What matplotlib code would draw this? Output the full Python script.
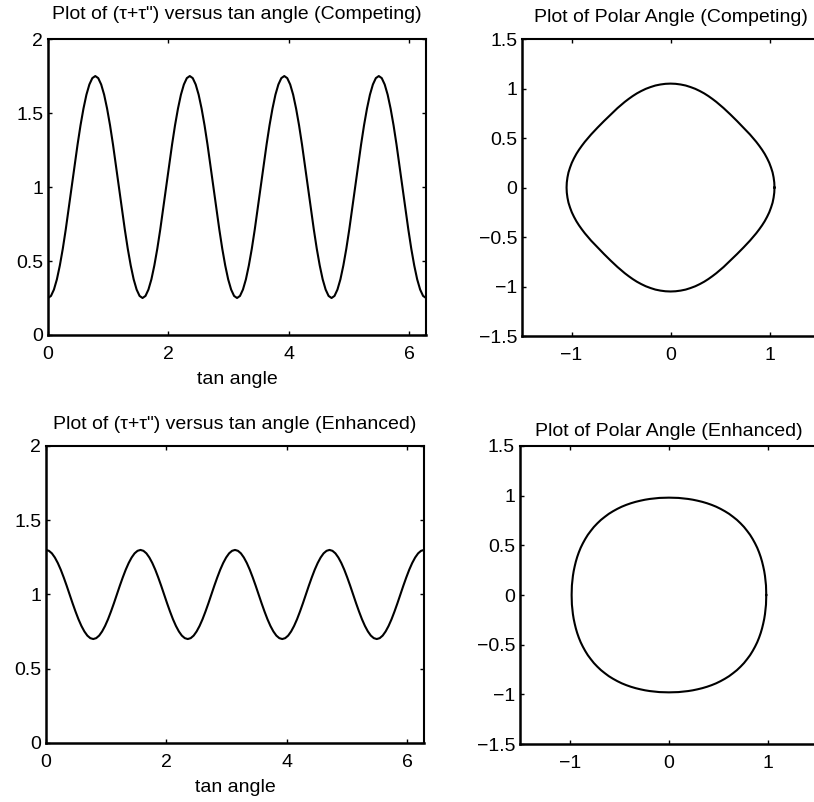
import numpy as np
import matplotlib
matplotlib.use("Agg")
import matplotlib.pyplot as plt
from matplotlib.ticker import FuncFormatter

plt.rcParams['font.family'] = ['Liberation Sans', 'DejaVu Sans']

# tan angle samples (129 points over one turn)
angle = np.linspace(0, 2 * np.pi, 129)

# (tau + tau''), one value per angle sample
stiff_competing = [
    0.25, 0.264, 0.307, 0.376, 0.47, 0.583, 0.713, 0.854, 1.0, 1.146, 1.287, 1.417, 1.53, 1.624, 1.693, 1.736,
    1.75, 1.736, 1.693, 1.624, 1.53, 1.417, 1.287, 1.146, 1.0, 0.854, 0.713, 0.583, 0.47, 0.376, 0.307, 0.264,
    0.25, 0.264, 0.307, 0.376, 0.47, 0.583, 0.713, 0.854, 1.0, 1.146, 1.287, 1.417, 1.53, 1.624, 1.693, 1.736,
    1.75, 1.736, 1.693, 1.624, 1.53, 1.417, 1.287, 1.146, 1.0, 0.854, 0.713, 0.583, 0.47, 0.376, 0.307, 0.264,
    0.25, 0.264, 0.307, 0.376, 0.47, 0.583, 0.713, 0.854, 1.0, 1.146, 1.287, 1.417, 1.53, 1.624, 1.693, 1.736,
    1.75, 1.736, 1.693, 1.624, 1.53, 1.417, 1.287, 1.146, 1.0, 0.854, 0.713, 0.583, 0.47, 0.376, 0.307, 0.264,
    0.25, 0.264, 0.307, 0.376, 0.47, 0.583, 0.713, 0.854, 1.0, 1.146, 1.287, 1.417, 1.53, 1.624, 1.693, 1.736,
    1.75, 1.736, 1.693, 1.624, 1.53, 1.417, 1.287, 1.146, 1.0, 0.854, 0.713, 0.583, 0.47, 0.376, 0.307, 0.264,
    0.25]

stiff_enhanced = [
    1.3, 1.294, 1.277, 1.249, 1.212, 1.167, 1.115, 1.059, 1.0, 0.941, 0.885, 0.833, 0.788, 0.751, 0.723, 0.706,
    0.7, 0.706, 0.723, 0.751, 0.788, 0.833, 0.885, 0.941, 1.0, 1.059, 1.115, 1.167, 1.212, 1.249, 1.277, 1.294,
    1.3, 1.294, 1.277, 1.249, 1.212, 1.167, 1.115, 1.059, 1.0, 0.941, 0.885, 0.833, 0.788, 0.751, 0.723, 0.706,
    0.7, 0.706, 0.723, 0.751, 0.788, 0.833, 0.885, 0.941, 1.0, 1.059, 1.115, 1.167, 1.212, 1.249, 1.277, 1.294,
    1.3, 1.294, 1.277, 1.249, 1.212, 1.167, 1.115, 1.059, 1.0, 0.941, 0.885, 0.833, 0.788, 0.751, 0.723, 0.706,
    0.7, 0.706, 0.723, 0.751, 0.788, 0.833, 0.885, 0.941, 1.0, 1.059, 1.115, 1.167, 1.212, 1.249, 1.277, 1.294,
    1.3, 1.294, 1.277, 1.249, 1.212, 1.167, 1.115, 1.059, 1.0, 0.941, 0.885, 0.833, 0.788, 0.751, 0.723, 0.706,
    0.7, 0.706, 0.723, 0.751, 0.788, 0.833, 0.885, 0.941, 1.0, 1.059, 1.115, 1.167, 1.212, 1.249, 1.277, 1.294,
    1.3]

# polar radius, same angle samples
radius_competing = [
    1.05, 1.049, 1.046, 1.042, 1.035, 1.028, 1.019, 1.01, 1.0, 0.99, 0.981, 0.972, 0.965, 0.958, 0.954, 0.951,
    0.95, 0.951, 0.954, 0.958, 0.965, 0.972, 0.981, 0.99, 1.0, 1.01, 1.019, 1.028, 1.035, 1.042, 1.046, 1.049,
    1.05, 1.049, 1.046, 1.042, 1.035, 1.028, 1.019, 1.01, 1.0, 0.99, 0.981, 0.972, 0.965, 0.958, 0.954, 0.951,
    0.95, 0.951, 0.954, 0.958, 0.965, 0.972, 0.981, 0.99, 1.0, 1.01, 1.019, 1.028, 1.035, 1.042, 1.046, 1.049,
    1.05, 1.049, 1.046, 1.042, 1.035, 1.028, 1.019, 1.01, 1.0, 0.99, 0.981, 0.972, 0.965, 0.958, 0.954, 0.951,
    0.95, 0.951, 0.954, 0.958, 0.965, 0.972, 0.981, 0.99, 1.0, 1.01, 1.019, 1.028, 1.035, 1.042, 1.046, 1.049,
    1.05, 1.049, 1.046, 1.042, 1.035, 1.028, 1.019, 1.01, 1.0, 0.99, 0.981, 0.972, 0.965, 0.958, 0.954, 0.951,
    0.95, 0.951, 0.954, 0.958, 0.965, 0.972, 0.981, 0.99, 1.0, 1.01, 1.019, 1.028, 1.035, 1.042, 1.046, 1.049,
    1.05]

radius_enhanced = [
    0.98, 0.98, 0.982, 0.983, 0.986, 0.989, 0.992, 0.996, 1.0, 1.004, 1.008, 1.011, 1.014, 1.017, 1.018, 1.02,
    1.02, 1.02, 1.018, 1.017, 1.014, 1.011, 1.008, 1.004, 1.0, 0.996, 0.992, 0.989, 0.986, 0.983, 0.982, 0.98,
    0.98, 0.98, 0.982, 0.983, 0.986, 0.989, 0.992, 0.996, 1.0, 1.004, 1.008, 1.011, 1.014, 1.017, 1.018, 1.02,
    1.02, 1.02, 1.018, 1.017, 1.014, 1.011, 1.008, 1.004, 1.0, 0.996, 0.992, 0.989, 0.986, 0.983, 0.982, 0.98,
    0.98, 0.98, 0.982, 0.983, 0.986, 0.989, 0.992, 0.996, 1.0, 1.004, 1.008, 1.011, 1.014, 1.017, 1.018, 1.02,
    1.02, 1.02, 1.018, 1.017, 1.014, 1.011, 1.008, 1.004, 1.0, 0.996, 0.992, 0.989, 0.986, 0.983, 0.982, 0.98,
    0.98, 0.98, 0.982, 0.983, 0.986, 0.989, 0.992, 0.996, 1.0, 1.004, 1.008, 1.011, 1.014, 1.017, 1.018, 1.02,
    1.02, 1.02, 1.018, 1.017, 1.014, 1.011, 1.008, 1.004, 1.0, 0.996, 0.992, 0.989, 0.986, 0.983, 0.982, 0.98,
    0.98]

titles = ['Plot of (\u03c4+\u03c4") versus tan angle (Competing)',
          'Plot of Polar Angle (Competing)',
          'Plot of (\u03c4+\u03c4") versus tan angle (Enhanced)',
          'Plot of Polar Angle (Enhanced)']
left_xticks = [0, 2, 4, 6]
left_yticks = [0, 0.5, 1, 1.5, 2]
right_xticks = [-1, 0, 1]
right_yticks = [-1.5, -1, -0.5, 0, 0.5, 1, 1.5]


def fmt(v, pos):
    return ('%g' % v).replace('-', '\u2212')


def style(ax):
    for s in ax.spines.values():
        s.set_linewidth(1.5)
    ax.spines['left'].set_linewidth(1.8)
    ax.spines['bottom'].set_linewidth(1.8)
    ax.tick_params(direction='in', top=True, right=True, length=3, width=1,
                   labelsize=14)
    ax.tick_params(axis='x', pad=8)
    ax.tick_params(axis='y', pad=3.5)
    ax.xaxis.set_major_formatter(FuncFormatter(fmt))
    ax.yaxis.set_major_formatter(FuncFormatter(fmt))


fig = plt.figure(figsize=(8.14, 8.02), dpi=100)

ax1 = fig.add_axes([0.059, 0.5823, 0.4644, 0.369])
ax2 = fig.add_axes([0.6413, 0.581, 0.3649, 0.3703])
ax3 = fig.add_axes([0.0565, 0.0736, 0.4644, 0.3703])
ax4 = fig.add_axes([0.6388, 0.0723, 0.366, 0.3716])

for ax, y, t, tp in [(ax1, stiff_competing, titles[0], 14.2), (ax3, stiff_enhanced, titles[2], 12)]:
    ax.plot(angle, y, color='black', lw=1.5)
    ax.set_xlim(0, 2 * np.pi)
    ax.set_ylim(0, 2)
    ax.set_xticks(left_xticks)
    ax.set_yticks(left_yticks)
    ax.set_xlabel('tan angle', fontsize=14, labelpad=5.5)
    ax.set_title(t, fontsize=14, pad=tp)
    style(ax)

for ax, r, t, tp in [(ax2, radius_competing, titles[1], 12), (ax4, radius_enhanced, titles[3], 7.5)]:
    r = np.asarray(r)
    ax.plot(r * np.cos(angle), r * np.sin(angle), color='black', lw=1.5)
    ax.set_xlim(-1.5, 1.5)
    ax.set_ylim(-1.5, 1.5)
    ax.set_xticks(right_xticks)
    ax.set_yticks(right_yticks)
    ax.set_title(t, fontsize=14, pad=tp)
    style(ax)

fig.savefig('out.png', dpi=100)
